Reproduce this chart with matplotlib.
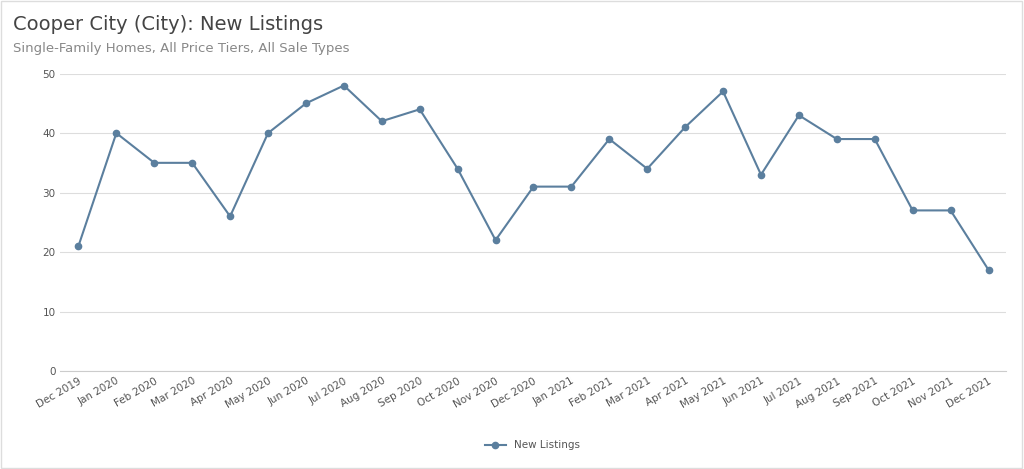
import matplotlib
matplotlib.use('Agg')
import matplotlib.pyplot as plt

months = ['Dec 2019', 'Jan 2020', 'Feb 2020', 'Mar 2020', 'Apr 2020', 'May 2020', 'Jun 2020',
          'Jul 2020', 'Aug 2020', 'Sep 2020', 'Oct 2020', 'Nov 2020', 'Dec 2020', 'Jan 2021',
          'Feb 2021', 'Mar 2021', 'Apr 2021', 'May 2021', 'Jun 2021', 'Jul 2021', 'Aug 2021',
          'Sep 2021', 'Oct 2021', 'Nov 2021', 'Dec 2021']
new_listings = [21, 40, 35, 35, 26, 40, 45, 48, 42, 44, 34, 22, 31, 31,
                39, 34, 41, 47, 33, 43, 39, 39, 27, 27, 17]

color = '#5b7f9e'
fig = plt.figure(figsize=(10.24, 4.69), dpi=100)
ax = fig.add_axes([0.059, 0.209, 0.923, 0.634])
x = range(len(months))
ax.plot(x, new_listings, color=color, lw=1.5, marker='o', ms=4.5, label='New Listings')

ax.set_ylim(0, 50)
ax.set_yticks(range(0, 51, 10))
ax.set_xlim(-0.475, 24.45)
ax.set_xticks(list(x))
ax.set_xticklabels(months, rotation=30, ha='right', rotation_mode='anchor')
ax.tick_params(labelsize=7.5, colors='#555555', length=0)
ax.grid(axis='y', color='#dddddd', lw=0.8)
ax.set_axisbelow(True)
for s in ['top', 'right', 'left']:
    ax.spines[s].set_visible(False)
ax.spines['bottom'].set_color('#cccccc')

fig.text(0.013, 0.935, 'Cooper City (City): New Listings', fontsize=14, color='#444444')
fig.text(0.013, 0.89, 'Single-Family Homes, All Price Tiers, All Sale Types', fontsize=9.5, color='#888888')
leg = fig.legend(loc='lower center', bbox_to_anchor=(0.52, 0.02), frameon=False, fontsize=7.5)
for t in leg.get_texts():
    t.set_color('#555555')

fig.patches.append(plt.Rectangle((0.001, 0.002), 0.997, 0.995, transform=fig.transFigure,
                                 fill=False, edgecolor='#dddddd', lw=1))
fig.savefig('out.png', dpi=100)
